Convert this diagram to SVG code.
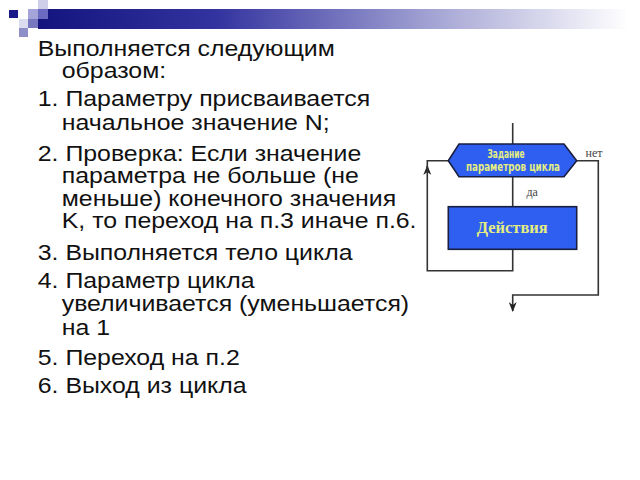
<svg xmlns="http://www.w3.org/2000/svg" width="640" height="480" viewBox="0 0 640 480">
<defs>
<linearGradient id="bar" x1="38" y1="0" x2="640" y2="0" gradientUnits="userSpaceOnUse">
<stop offset="0" stop-color="#14147e"/>
<stop offset="0.3" stop-color="#3434a0"/>
<stop offset="0.67" stop-color="#a8a8d6"/>
<stop offset="0.98" stop-color="#ffffff"/>
</linearGradient>
<marker id="arrd" markerWidth="8" markerHeight="10" refX="4" refY="9" orient="0" markerUnits="userSpaceOnUse" viewBox="0 0 8 10">
<path d="M0 0 L4 10 L8 0 L4 3 Z" fill="#222"/>
</marker>
<marker id="arru" markerWidth="8" markerHeight="10" refX="4" refY="1" orient="0" markerUnits="userSpaceOnUse" viewBox="0 0 8 10">
<path d="M0 10 L4 0 L8 10 L4 7 Z" fill="#222"/>
</marker>
</defs>
<style>
.t{font-family:"Liberation Sans",Arial,sans-serif;font-size:22px;fill:#111}
.shape{fill:#2f5ff0;stroke:#1a1f40;stroke-width:1.6}
.lbl{font-family:"DejaVu Sans",sans-serif;font-weight:bold;font-size:11.5px;fill:#e4ee80;text-anchor:middle}
.act{font-family:"Liberation Serif",serif;font-weight:bold;font-size:16px;fill:#e4ee80;text-anchor:middle}
.yn{font-family:"Liberation Serif",serif;font-size:12px;fill:#444}
.c{fill:none;stroke:#333;stroke-width:1.6}
</style>
<g id="decor">
<rect x="38" y="9" width="602" height="20" fill="url(#bar)"/>
<rect x="9" y="10" width="9" height="8" fill="#1a1a8a"/>
<rect x="38" y="0" width="10" height="9" fill="#cfcfea"/>
<rect x="28" y="9" width="10" height="10" fill="#a4a4d8"/>
<rect x="38" y="9" width="10" height="10" fill="#6a6ac0"/>
<rect x="28" y="19" width="10" height="9" fill="#7878c0"/>
<rect x="19" y="19" width="9" height="9" fill="#dcdcf0"/>
<rect x="19" y="28" width="9" height="9" fill="#8e8ec8"/>
</g>
<g id="text" transform="scale(1.131 1)">
<text class="t" x="33.4" y="56">Выполняется следующим</text>
<text class="t" x="54.6" y="78.5">образом:</text>
<text class="t" x="33.4" y="106.5">1. Параметру присваивается</text>
<text class="t" x="54.6" y="130">начальное значение N;</text>
<text class="t" x="33.4" y="161">2. Проверка: Если значение</text>
<text class="t" x="54.6" y="183.5">параметра не больше (не</text>
<text class="t" x="54.6" y="206">меньше) конечного значения</text>
<text class="t" x="54.6" y="228.5">K, то переход на п.3 иначе п.6.</text>
<text class="t" x="33.4" y="260">3. Выполняется тело цикла</text>
<text class="t" x="33.4" y="288">4. Параметр цикла</text>
<text class="t" x="54.6" y="311">увеличивается (уменьшается)</text>
<text class="t" x="54.6" y="335">на 1</text>
<text class="t" x="33.4" y="365">5. Переход на п.2</text>
<text class="t" x="33.4" y="393">6. Выход из цикла</text>
</g>
<g id="connectors">
<path class="c" d="M512.7 123 V144"/>
<path class="c" d="M512.7 176.7 V206.7"/>
<path class="c" d="M512.7 249.3 V270.7 H427.3 V166" marker-end="url(#arru)"/>
<path class="c" d="M427.3 172 V160.7 H448.3"/>
<path class="c" d="M576.7 160.7 H598.3 V295 H512.7 V311" marker-end="url(#arrd)"/>
</g>
<g id="node-params">
<polygon class="shape" points="448.3,160.7 459,144 564,144 576.7,160.7 564,176.7 459,176.7"/>
<text class="lbl" x="506" y="158" textLength="37" lengthAdjust="spacingAndGlyphs">Задание</text>
<text class="lbl" x="513" y="171" textLength="94" lengthAdjust="spacingAndGlyphs">параметров  цикла</text>
</g>
<g id="node-actions">
<rect class="shape" x="448.3" y="206.7" width="128.4" height="42.6"/>
<text class="act" x="512.2" y="233" textLength="71" lengthAdjust="spacingAndGlyphs">Действия</text>
</g>
<text class="yn" x="585.5" y="156.5">нет</text>
<text class="yn" x="526.5" y="195.5">да</text>
</svg>
